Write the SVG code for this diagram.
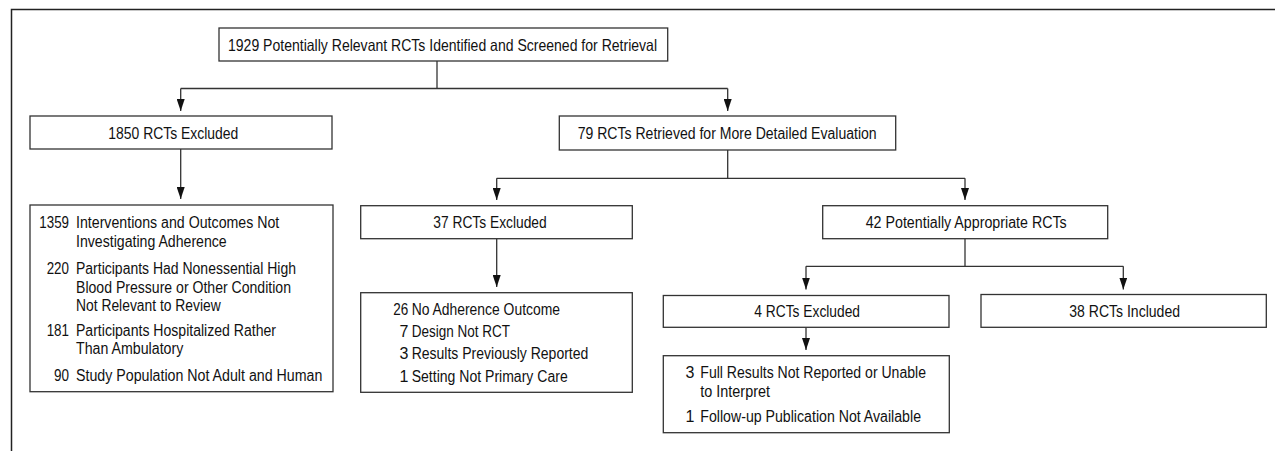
<svg xmlns="http://www.w3.org/2000/svg" width="1275" height="451" viewBox="0 0 1275 451">
<style>
.box{fill:#fff;stroke:#333;stroke-width:1.3}
.t{font-family:"Liberation Sans Narrow","Liberation Sans",Arial,sans-serif;font-size:16px;fill:#111}
.e{text-anchor:end}
.ln{fill:none;stroke:#333;stroke-width:1.3}
</style>
<defs>
<marker id="ah" markerUnits="userSpaceOnUse" markerWidth="12" markerHeight="8" viewBox="0 0 12 8" refX="12" refY="4" orient="auto">
<path d="M0,0 L12,4 L0,8 Z" fill="#111"/>
</marker>
</defs>
<rect width="1275" height="451" fill="#fff"/>
<path d="M11.5,451 V9.5 H1275" fill="none" stroke="#222" stroke-width="1.5"/>
<g id="connectors">
<path class="ln" d="M437,61 V88.5"/>
<path class="ln" d="M180.7,88.5 H727.7"/>
<path class="ln" d="M180.7,88.5 V111" marker-end="url(#ah)"/>
<path class="ln" d="M727.7,88.5 V111" marker-end="url(#ah)"/>
<path class="ln" d="M180.7,149 V199" marker-end="url(#ah)"/>
<path class="ln" d="M727.7,150 V178.3"/>
<path class="ln" d="M496.7,178.3 H965"/>
<path class="ln" d="M496.7,178.3 V200" marker-end="url(#ah)"/>
<path class="ln" d="M965,178.3 V200" marker-end="url(#ah)"/>
<path class="ln" d="M496.7,238.7 V287" marker-end="url(#ah)"/>
<path class="ln" d="M965,238.7 V266.3"/>
<path class="ln" d="M806,266.3 H1123.3"/>
<path class="ln" d="M806,266.3 V289.5" marker-end="url(#ah)"/>
<path class="ln" d="M1123.3,266.3 V289.5" marker-end="url(#ah)"/>
<path class="ln" d="M806,327.3 V350" marker-end="url(#ah)"/>
</g>
<g id="n_identified">
<rect class="box" x="219" y="28" width="448.7" height="33"/>
<text class="t" x="228" y="51" textLength="429" lengthAdjust="spacingAndGlyphs" style="font-size:16.5px">1929 Potentially Relevant RCTs Identified and Screened for Retrieval</text>
</g>
<g id="n_excluded1850">
<rect class="box" x="30" y="116" width="302" height="33"/>
<text class="t" x="108.3" y="139.3" textLength="130" lengthAdjust="spacingAndGlyphs">1850 RCTs Excluded</text>
</g>
<g id="n_retrieved79">
<rect class="box" x="559.3" y="116" width="336.4" height="34"/>
<text class="t" x="577.7" y="139.3" textLength="299" lengthAdjust="spacingAndGlyphs">79 RCTs Retrieved for More Detailed Evaluation</text>
</g>
<g id="n_reasons1850">
<rect class="box" x="30" y="205" width="303" height="186.7"/>
<text class="t e" x="69" y="228.3" textLength="29.7" lengthAdjust="spacingAndGlyphs">1359</text>
<text class="t" x="76" y="228.3" textLength="203.3" lengthAdjust="spacingAndGlyphs">Interventions and Outcomes Not</text>
<text class="t" x="76" y="246.7" textLength="150.7" lengthAdjust="spacingAndGlyphs">Investigating Adherence</text>
<text class="t e" x="69" y="274" textLength="22.3" lengthAdjust="spacingAndGlyphs">220</text>
<text class="t" x="76" y="274" textLength="220" lengthAdjust="spacingAndGlyphs">Participants Had Nonessential High</text>
<text class="t" x="76" y="292.7" textLength="215" lengthAdjust="spacingAndGlyphs">Blood Pressure or Other Condition</text>
<text class="t" x="76" y="310.7" textLength="144.7" lengthAdjust="spacingAndGlyphs">Not Relevant to Review</text>
<text class="t e" x="69" y="335.7" textLength="22.3" lengthAdjust="spacingAndGlyphs">181</text>
<text class="t" x="76" y="335.7" textLength="200" lengthAdjust="spacingAndGlyphs">Participants Hospitalized Rather</text>
<text class="t" x="76" y="354.3" textLength="107.3" lengthAdjust="spacingAndGlyphs">Than Ambulatory</text>
<text class="t e" x="69" y="381" textLength="15" lengthAdjust="spacingAndGlyphs">90</text>
<text class="t" x="76" y="381" textLength="246.3" lengthAdjust="spacingAndGlyphs">Study Population Not Adult and Human</text>
</g>
<g id="n_excluded37">
<rect class="box" x="360.7" y="205.7" width="271.6" height="33"/>
<text class="t" x="433.3" y="227.7" textLength="113.4" lengthAdjust="spacingAndGlyphs">37 RCTs Excluded</text>
</g>
<g id="n_reasons37">
<rect class="box" x="360.7" y="292.7" width="271.6" height="99.6"/>
<text class="t e" x="408.3" y="315" textLength="15" lengthAdjust="spacingAndGlyphs">26</text>
<text class="t" x="411.7" y="315" textLength="148.3" lengthAdjust="spacingAndGlyphs">No Adherence Outcome</text>
<text class="t e" x="408.3" y="337">7</text>
<text class="t" x="411.7" y="337" textLength="98.3" lengthAdjust="spacingAndGlyphs">Design Not RCT</text>
<text class="t e" x="408.3" y="359.3">3</text>
<text class="t" x="411.7" y="359.3" textLength="176.6" lengthAdjust="spacingAndGlyphs">Results Previously Reported</text>
<text class="t e" x="408.3" y="381.5">1</text>
<text class="t" x="411.7" y="381.5" textLength="156" lengthAdjust="spacingAndGlyphs">Setting Not Primary Care</text>
</g>
<g id="n_appropriate42">
<rect class="box" x="822.7" y="205.7" width="285" height="33"/>
<text class="t" x="865.7" y="227.7" textLength="201" lengthAdjust="spacingAndGlyphs">42 Potentially Appropriate RCTs</text>
</g>
<g id="n_excluded4">
<rect class="box" x="663.3" y="295.5" width="285.7" height="31.8"/>
<text class="t" x="754.3" y="317.3" textLength="105.7" lengthAdjust="spacingAndGlyphs">4 RCTs Excluded</text>
</g>
<g id="n_included38">
<rect class="box" x="981" y="294.5" width="285.3" height="32.8"/>
<text class="t" x="1069.3" y="316.8" textLength="110.7" lengthAdjust="spacingAndGlyphs">38 RCTs Included</text>
</g>
<g id="n_reasons4">
<rect class="box" x="663.3" y="355.7" width="286" height="77"/>
<text class="t e" x="694.3" y="378.3">3</text>
<text class="t" x="700.3" y="378.3" textLength="225.7" lengthAdjust="spacingAndGlyphs">Full Results Not Reported or Unable</text>
<text class="t" x="700.3" y="397.3" textLength="69.7" lengthAdjust="spacingAndGlyphs">to Interpret</text>
<text class="t e" x="694.3" y="421.7">1</text>
<text class="t" x="700.3" y="421.7" textLength="220.7" lengthAdjust="spacingAndGlyphs">Follow-up Publication Not Available</text>
</g>
</svg>
